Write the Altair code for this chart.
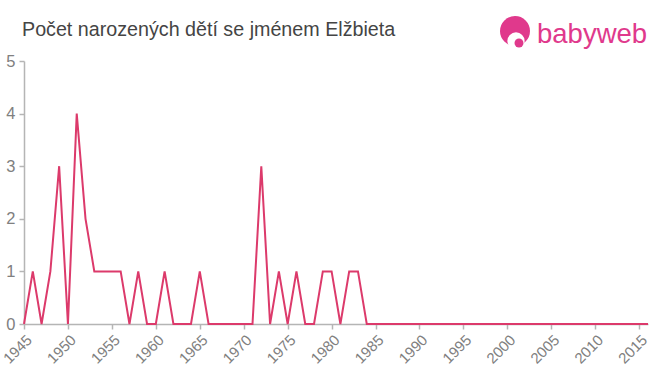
import altair as alt
import pandas as pd

years = list(range(1945, 2017))
counts_early = [0, 1, 0, 1, 3, 0, 4, 2, 1, 1, 1, 1, 0, 1, 0, 0, 1, 0, 0, 0, 1, 0,  # 1945-1966
                0, 0, 0, 0, 0, 3, 0, 1, 0, 1, 0, 0, 1, 1, 0, 1, 1, 0]  # 1967-1984
counts = counts_early + [0] * (len(years) - len(counts_early))

title_text = "Počet narozených dětí se jménem Elžbieta"
logo_text = "babyweb"
x_ticks = list(range(1945, 2016, 5))

df = pd.DataFrame({"year": years, "count": counts})

LINE = "#dc3a6b"
PINK = "#e0398c"
AXIS = "#b5b5b5"
LABEL = "#808080"

line = alt.Chart(df).mark_line(color=LINE, strokeWidth=2, clip=False).encode(
    x=alt.X("year:Q", scale=alt.Scale(domain=[1945, 2016], nice=False, zero=False),
            axis=alt.Axis(values=x_ticks, labelAngle=-45, format="d", title=None, grid=False,
                          domainColor=AXIS, tickColor=AXIS, tickSize=5, labelColor=LABEL,
                          labelFontSize=15, labelFont="Liberation Sans", labelPadding=3,
                          domainWidth=1.5, tickWidth=1.5)),
    y=alt.Y("count:Q", scale=alt.Scale(domain=[0, 5], nice=False),
            axis=alt.Axis(values=[0, 1, 2, 3, 4, 5], title=None, grid=False,
                          domainColor=AXIS, tickColor=AXIS, tickSize=5, labelColor=LABEL,
                          labelFontSize=16.5, labelFont="Liberation Sans", labelPadding=4,
                          domainWidth=1.5, tickWidth=1.5)),
)

title = alt.Chart(pd.DataFrame({"t": [title_text]})).mark_text(
    align="left", baseline="middle", fontSize=19.7, font="Liberation Sans", color="#444444"
).encode(x=alt.value(-2), y=alt.value(-31), text="t:N")

logo_txt = alt.Chart(pd.DataFrame({"t": [logo_text]})).mark_text(
    align="left", baseline="middle", fontSize=27.5, font="Liberation Sans", color=PINK
).encode(x=alt.value(513), y=alt.value(-26), text="t:N")

logo_dot = alt.Chart(pd.DataFrame({"t": [0]})).mark_circle(
    color=PINK, opacity=1, size=900
).encode(x=alt.value(491), y=alt.value(-30))

logo_face = alt.Chart(pd.DataFrame({"t": [0]})).mark_circle(
    color="white", opacity=1, size=300
).encode(x=alt.value(492), y=alt.value(-20))

logo_mouth = alt.Chart(pd.DataFrame({"t": [0]})).mark_circle(
    color=PINK, opacity=1, size=80
).encode(x=alt.value(495), y=alt.value(-18))

chart = alt.layer(line, title, logo_dot, logo_face, logo_mouth, logo_txt).properties(
    width=624, height=263,
    autosize=alt.AutoSizeParams(type="none"),
    padding={"left": 24, "top": 61, "right": 12, "bottom": 51},
).configure(background="white").configure_view(stroke=None, strokeWidth=0)

chart.save("out.html", embed_options={"renderer": "svg", "actions": False})
